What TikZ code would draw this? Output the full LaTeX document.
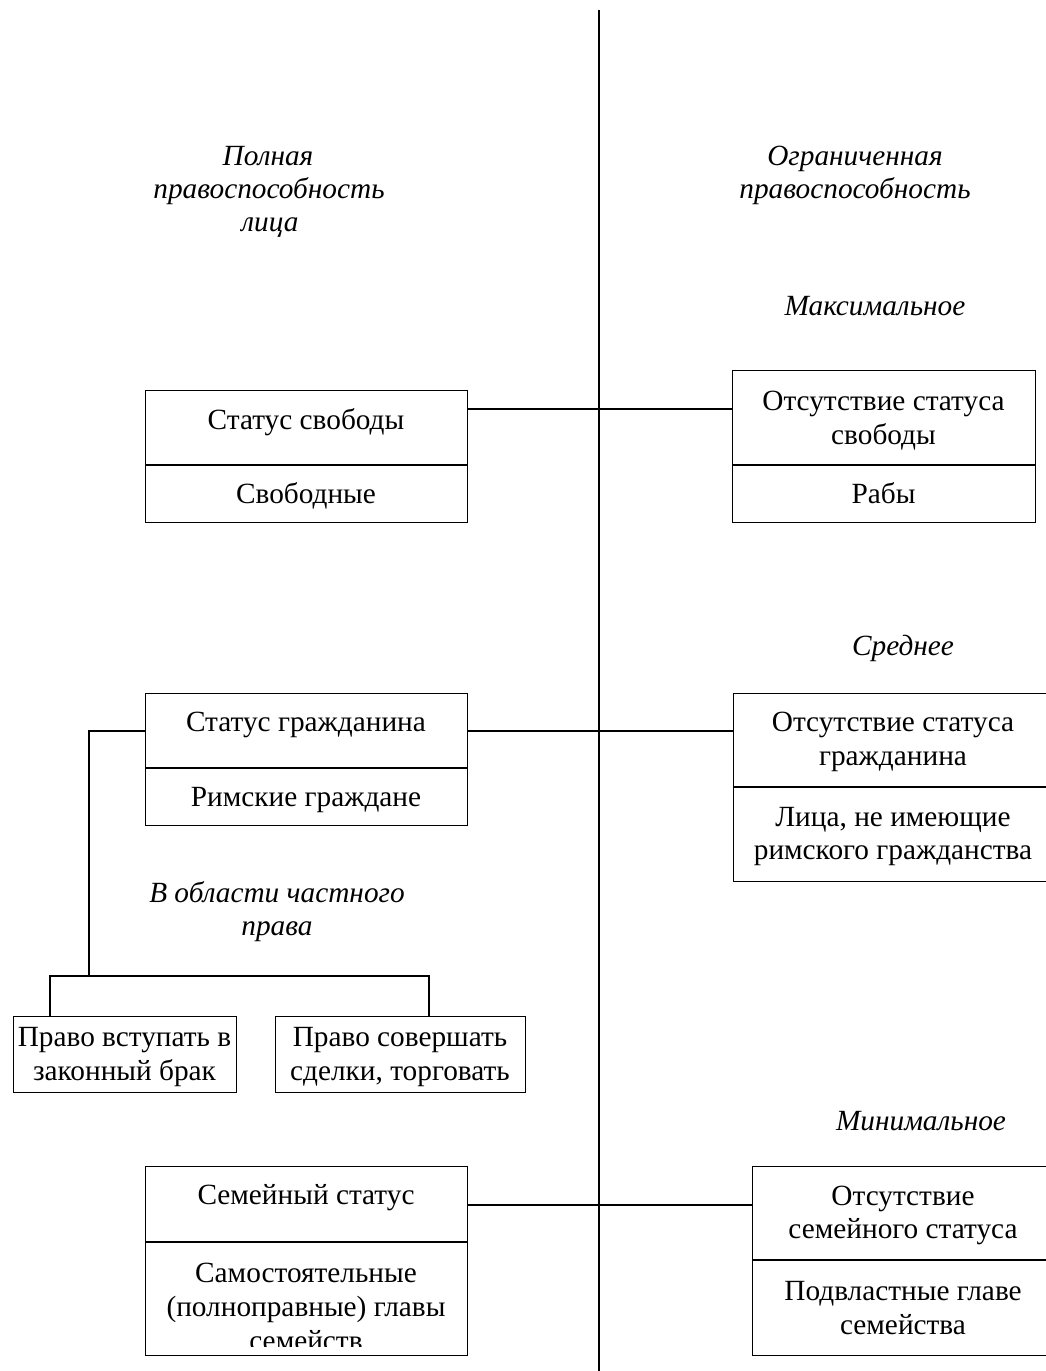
\documentclass[tikz,border=0pt]{standalone}
\usepackage{fontspec}
\setmainfont{Liberation Serif}
\begin{document}
\begin{tikzpicture}[x=1pt,y=-1pt,line width=1.4pt,
  box/.style={draw,rectangle,anchor=north west,inner sep=0pt},
  txt/.style={font=\fontsize{29.3}{34}\selectfont,inner sep=0pt,anchor=base},
  lab/.style={font=\fontsize{29.3}{34}\selectfont\itshape,inner sep=0pt,anchor=base}]
\useasboundingbox (0,0) rectangle (1045,1371);
\fill[white] (0,0) rectangle (1045,1371);

% central vertical line
\coordinate (vt) at (599,10);
\coordinate (vb) at (599,1380);
\draw (vt) -- (vb);

% headings
\node[lab] (h1a) at (268,165) {Полная};
\node[lab] (h1b) at (269,198) {правоспособность};
\node[lab] (h1c) at (270,231) {лица};
\node[lab] (h2a) at (855,165) {Ограниченная};
\node[lab] (h2b) at (855,198) {правоспособность};
\node[lab] (m1) at (875,315) {Максимальное};
\node[lab] (m2) at (903,655) {Среднее};
\node[lab] (m3) at (921,1130) {Минимальное};
\node[lab] (pa) at (277,902) {В области частного};
\node[lab] (pb) at (277,935) {права};

% freedom
\node[box,minimum width=322pt,minimum height=132pt] (free) at (145,390) {};
\draw (145,465) -- (467,465);
\node[txt] (f1) at (306,429) {Статус свободы};
\node[txt] (f2) at (306,503) {Свободные};

\node[box,minimum width=303pt,minimum height=152pt] (nofree) at (732,370) {};
\draw (732,465) -- (1035,465);
\node[txt] (nf1) at (883.5,410) {Отсутствие статуса};
\node[txt] (nf2) at (883.5,444) {свободы};
\node[txt] (nf3) at (883.5,503) {Рабы};

\coordinate (c1) at (0,409);
\draw (free.east |- c1) -- (nofree.west |- c1);

% citizenship
\node[box,minimum width=322pt,minimum height=132pt] (cit) at (145,693) {};
\draw (145,768) -- (467,768);
\node[txt] (c1a) at (306,731) {Статус гражданина};
\node[txt] (c1b) at (306,806) {Римские граждане};

\node[box,minimum width=322pt,minimum height=188pt] (nocit) at (733,693) {};
\draw (733,787) -- (1055,787);
\node[txt] (nc1) at (893,731) {Отсутствие статуса};
\node[txt] (nc2) at (893,765) {гражданина};
\node[txt] (nc3) at (893,826) {Лица, не имеющие};
\node[txt] (nc4) at (893,859) {римского гражданства};

\coordinate (c2) at (0,731);
\draw (cit.east |- c2) -- (nocit.west |- c2);

% private law branch
\node[box,minimum width=223pt,minimum height=76pt] (mar) at (13,1016) {};
\node[txt] (ma1) at (124.5,1046) {Право вступать в};
\node[txt] (ma2) at (124.5,1080) {законный брак};
\node[box,minimum width=250pt,minimum height=76pt] (deal) at (275,1016) {};
\node[txt] (de1) at (400,1046) {Право совершать};
\node[txt] (de2) at (400,1080) {сделки, торговать};

\coordinate (bx) at (89,731);
\coordinate (by) at (89,976);
\coordinate (bl) at (50,976);
\coordinate (br) at (429,976);
\draw (cit.west |- c2) -- (bx) -- (by);
\draw (mar.north -| bl) -- (bl) -- (br) -- (deal.north -| br);

% family
\node[box,minimum width=322pt,minimum height=189pt] (fam) at (145,1166) {};
\draw (145,1242) -- (467,1242);
\node[txt] (fa1) at (306,1204) {Семейный статус};
\node[txt] (fa2) at (306,1282) {Самостоятельные};
\node[txt] (fa3) at (306,1316) {(полноправные) главы};
\begin{scope}
\clip (145,1320) rectangle (467,1346);
\node[txt] (fa4) at (306,1350) {семейств};
\end{scope}

\node[box,minimum width=302pt,minimum height=189pt] (nofam) at (752,1166) {};
\draw (752,1260) -- (1054,1260);
\node[txt] (nm1) at (903,1205) {Отсутствие};
\node[txt] (nm2) at (903,1238) {семейного статуса};
\node[txt] (nm3) at (903,1300) {Подвластные главе};
\node[txt] (nm4) at (903,1334) {семейства};

\coordinate (c3) at (0,1205);
\draw (fam.east |- c3) -- (nofam.west |- c3);
\end{tikzpicture}
\end{document}
